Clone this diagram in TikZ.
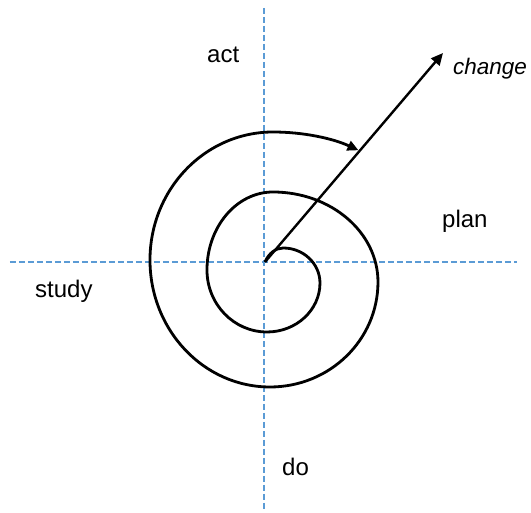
\documentclass[tikz,border=0pt]{standalone}
\usepackage{fontspec}
\setmainfont{Liberation Sans}
\usetikzlibrary{arrows.meta}

\begin{document}
\begin{tikzpicture}[x=1pt, y=1pt,
  axis/.style={draw={rgb,255:red,91;green,155;blue,213}, line width=1.2pt, dash pattern=on 6pt off 3pt},
  spiral/.style={draw, line width=2.8pt, line join=round},
  lbl/.style={inner sep=0pt, anchor=base west, font=\fontsize{24}{28}\selectfont},
  arr/.style={-{Triangle[length=12pt, width=11pt]}, line width=2.4pt}
]
\useasboundingbox (-265,-251) rectangle (266,262);
% axes
\coordinate (o) at (0,0);
\coordinate (west) at (-255,0);
\coordinate (east) at (252,0);
\coordinate (north) at (-1,254);
\coordinate (south) at (-1,-248);
\draw[axis] (west) -- (east);
\draw[axis] (north) -- (south);
% labels
\node[lbl] (act) at (-58,199) {act};
\node[lbl] (plan) at (177,34) {plan};
\node[lbl] (study) at (-230,-36) {study};
\node[lbl] (do) at (17,-214) {do};
\node[lbl, font=\fontsize{22.5}{26}\selectfont\itshape] (change) at (188,187) {change};
% spiral
\draw[spiral, -{Triangle[length=11pt, width=10pt]}] (o)
  arc[start angle=150, end angle=90, x radius=21pt, y radius=28pt]
  arc[start angle=90, end angle=0, x radius=36.8pt, y radius=35pt]
  arc[start angle=0, end angle=-90, x radius=53pt, y radius=49pt]
  arc[start angle=-90, end angle=-180, x radius=60pt, y radius=62pt]
  arc[start angle=180, end angle=90, x radius=66pt, y radius=78pt]
  arc[start angle=90, end angle=0, x radius=105pt, y radius=90pt]
  arc[start angle=0, end angle=-90, x radius=108pt, y radius=105pt]
  arc[start angle=-90, end angle=-180, x radius=120pt, y radius=127pt]
  arc[start angle=180, end angle=90, x radius=123pt, y radius=128pt]
  arc[start angle=90, end angle=59, x radius=166pt, y radius=128pt];
% change arrow
\coordinate (tip) at (178,209);
\draw[arr] (o) -- (tip);
\end{tikzpicture}
\end{document}
